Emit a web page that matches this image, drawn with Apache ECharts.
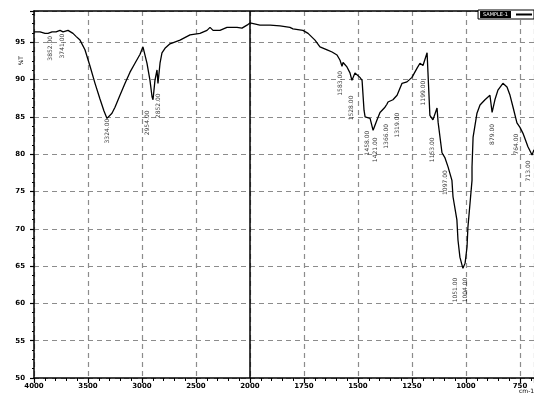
<!DOCTYPE html>
<html>
<head>
<meta charset="utf-8">
<script src="https://cdn.jsdelivr.net/npm/echarts@6.0.0/dist/echarts.min.js"></script>
<style>
html, body { margin: 0; padding: 0; background: #fff; }
#chart { width: 534px; height: 399px; }
</style>
</head>
<body>
<div id="chart"></div>
<script>
// IR spectrum, wavenumber (cm-1) vs transmittance (%T)
const seriesName = 'SAMPLE-1';

const wavenumbers = [
    4000, 3944, 3898, 3870, 3852, 3833, 3796, 3759, 3741, 3731,
    3713, 3685, 3667, 3639, 3611, 3574, 3528, 3481, 3435, 3389,
    3352, 3324, 3306, 3278, 3250, 3204, 3157, 3111, 3065, 3018,
    2991, 2954, 2926, 2907, 2898, 2880, 2861, 2852, 2833, 2815,
    2787, 2741, 2648, 2555, 2463, 2398, 2370, 2342, 2278, 2213,
    2120, 2074, 2028, 2000,
    1954, 1907, 1861, 1815, 1801, 1755, 1731, 1699, 1676, 1643,
    1620, 1597, 1583, 1574, 1569, 1551, 1537, 1528, 1514, 1491,
    1481, 1472, 1467, 1444, 1430, 1412, 1398, 1375, 1366, 1361,
    1338, 1319, 1296, 1273, 1250, 1227, 1213, 1199, 1180, 1176,
    1167, 1153, 1134, 1129, 1111, 1097, 1083, 1065, 1060, 1042,
    1037, 1028, 1018, 1014, 1004, 995, 991, 981, 972, 972,
    967, 949, 935, 912, 889, 879, 866, 852, 829, 810,
    796, 782, 764, 750, 736, 713, 694, 685
];

const transmittance = [
    96.4, 96.4, 96.2, 96.2, 96.1, 96.4, 96.4, 96.6, 96.8, 96.4,
    96.5, 96.6, 96.5, 96.2, 95.8, 95.3, 94.0, 91.8, 89.5, 87.4,
    85.8, 84.8, 85.0, 85.5, 86.3, 87.9, 89.5, 91.0, 92.2, 93.4,
    94.4, 92.2, 89.9, 87.7, 87.3, 89.9, 91.3, 89.5, 92.2, 93.6,
    94.2, 94.8, 95.3, 96.0, 96.2, 96.6, 97.0, 96.6, 96.6, 97.0,
    97.0, 96.9, 97.3, 97.6,
    97.3, 97.3, 97.2, 97.0, 96.8, 96.6, 96.2, 95.3, 94.4, 94.0,
    93.7, 93.3, 92.6, 91.8, 92.3, 91.7, 90.9, 89.9, 90.9, 90.3,
    89.9, 85.9, 85.0, 84.8, 83.2, 84.6, 85.6, 86.3, 86.7, 87.0,
    87.3, 87.9, 89.5, 89.7, 90.3, 91.5, 92.2, 91.9, 93.6, 91.0,
    85.2, 84.6, 86.2, 84.3, 80.2, 79.5, 78.3, 76.5, 74.3, 71.2,
    68.5, 66.2, 65.1, 64.7, 65.4, 67.6, 70.2, 73.5, 76.5, 78.3,
    82.3, 85.5, 86.6, 87.3, 87.9, 85.6, 87.3, 88.6, 89.5, 89.0,
    87.9, 86.3, 84.2, 83.6, 82.8, 81.0, 79.9, 80.6
];

// peak labels (wavenumber, %T where the label starts)
const peakWn = [3852, 3741, 3324, 2954, 2852, 1583, 1528, 1458, 1421, 1366, 1319, 1199, 1153, 1097, 1051, 1004, 879, 764, 713];
const peakT = [96.2, 96.5, 85.1, 86.2, 88.5, 91.5, 88.2, 83.5, 82.6, 84.4, 85.9, 90.2, 82.6, 78.2, 63.8, 63.8, 84.4, 83.1, 79.5];

const xTickStep = 500;
const yMin = 50, yMax = 99.2, yStep = 5;
const X_MAX = 4630; // right edge ~685 cm-1

// the x axis is expanded 2x below 2000 cm-1
const toAxis = wn => wn >= 2000 ? 4000 - wn : 2000 + (2000 - wn) * 2;
const fromAxis = u => u <= 2000 ? 4000 - u : 2000 - (u - 2000) / 2;

const font = 'DejaVu Sans';
const gridLine = { color: '#8c8c8c', type: [5, 4], width: 1.2 };

const chart = echarts.init(document.getElementById('chart'));
chart.setOption({
    animation: false,
    grid: { left: 34, right: 0, top: 11, bottom: 21 },
    legend: {
        top: 10,
        right: 0,
        align: 'right',
        padding: [1, 2, 1, 2],
        backgroundColor: '#fff',
        borderColor: '#000',
        borderWidth: 1,
        icon: 'rect',
        itemWidth: 16,
        itemHeight: 2,
        textStyle: { color: '#fff', backgroundColor: '#000', fontSize: 5, padding: [1, 3], fontFamily: font },
        data: [seriesName]
    },
    xAxis: [{
        type: 'value',
        min: 0,
        max: X_MAX,
        interval: xTickStep,
        axisLine: { lineStyle: { color: '#000', width: 1.5 } },
        axisTick: { length: 5, lineStyle: { color: '#000', width: 1.2 } },
        minorTick: { show: true, splitNumber: 5, length: 3, lineStyle: { color: '#000' } },
        axisLabel: {
            margin: 5,
            fontSize: 7,
            fontWeight: 'bold',
            color: '#000',
            fontFamily: font,
            showMaxLabel: false,
            formatter: v => (v % xTickStep === 0 ? String(fromAxis(v)) : '')
        },
        splitLine: { show: true, lineStyle: gridLine }
    }, {
        // top frame line
        type: 'value',
        position: 'top',
        min: 0,
        max: X_MAX,
        axisLine: { show: true, onZero: false, lineStyle: { color: '#000', width: 1.5 } },
        axisTick: { show: false },
        axisLabel: { show: false },
        splitLine: { show: false }
    }],
    yAxis: {
        type: 'value',
        min: yMin,
        max: yMax,
        interval: yStep,
        axisLine: { show: true, lineStyle: { color: '#000', width: 1.5 } },
        axisTick: { show: true, length: 4, lineStyle: { color: '#000', width: 1.2 } },
        minorTick: { show: true, splitNumber: 4, length: 2, lineStyle: { color: '#000' } },
        axisLabel: { margin: 9, fontSize: 7, fontWeight: 'bold', color: '#000', fontFamily: font, showMaxLabel: false },
        splitLine: { show: true, lineStyle: gridLine }
    },
    graphic: [
        { type: 'text', left: 18, top: 56, rotation: Math.PI / 2, style: { text: '%T', fontSize: 6, fill: '#000', fontFamily: font } },
        { type: 'text', left: 519, top: 388, style: { text: 'cm-1', fontSize: 6, fill: '#000', fontFamily: font } }
    ],
    series: [{
        name: seriesName,
        type: 'line',
        data: wavenumbers.map((w, i) => [toAxis(w), transmittance[i]]),
        showSymbol: false,
        color: '#000',
        lineStyle: { color: '#000', width: 1.3 },
        markLine: {
            silent: true,
            symbol: ['none', 'none'],
            label: { show: false },
            lineStyle: { color: '#000', type: 'solid', width: 1.5 },
            data: [{ xAxis: 2000 }]
        }
    }, {
        name: 'peaks',
        type: 'scatter',
        silent: true,
        symbolSize: 1,
        itemStyle: { color: 'rgba(0,0,0,0)' },
        data: peakWn.map((w, i) => [toAxis(w), peakT[i], w]),
        label: {
            show: true,
            position: 'bottom',
            distance: 2,
            rotate: 90,
            align: 'right',
            verticalAlign: 'middle',
            fontSize: 6,
            color: '#000',
            fontFamily: font,
            formatter: p => p.value[2].toFixed(2)
        }
    }]
});
</script>
</body>
</html>
